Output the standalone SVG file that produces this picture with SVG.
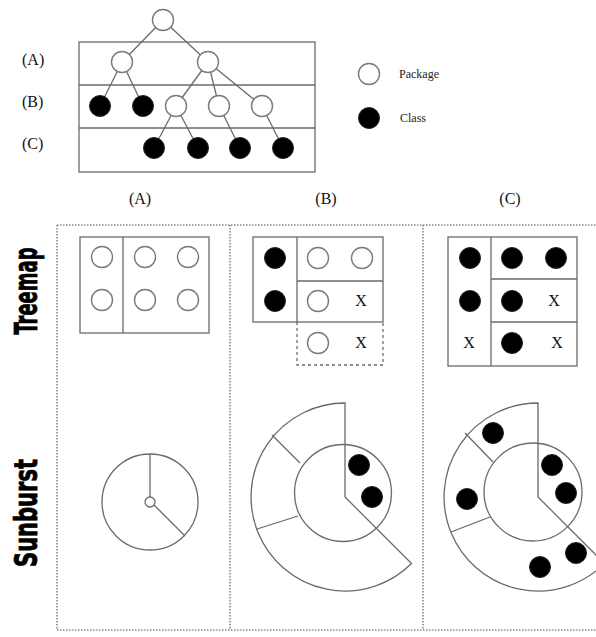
<svg xmlns="http://www.w3.org/2000/svg" width="596" height="637" viewBox="0 0 596 637">
<style>
.ln{stroke:#6a6a6a;stroke-width:1.3;fill:none}
.op{stroke:#7a7a7a;stroke-width:1.4;fill:#fff}
.fl{fill:#000;stroke:#222;stroke-width:1}
.dot{stroke:#8a8a8a;stroke-width:1.6;stroke-dasharray:1.5 1.5;fill:none}
.dash{stroke:#6a6a6a;stroke-width:1.3;stroke-dasharray:3 3;fill:none}
.lbl{font-family:"Liberation Serif","Times New Roman",serif;font-size:16px;fill:#111}
.leg{font-family:"Liberation Serif","Times New Roman",serif;font-size:12px;fill:#222}
.x{font-family:"Liberation Serif","Times New Roman",serif;font-size:16px;fill:#111;text-anchor:middle}
.side{font-family:"Liberation Sans Narrow","DejaVu Sans Condensed","Liberation Sans",sans-serif;font-weight:bold;font-size:32px;fill:#000;text-anchor:middle;stroke:#000;stroke-width:0.8}
</style>

<g id="tree">
  <rect class="ln" x="79" y="42" width="236" height="130"/>
  <line class="ln" x1="79" y1="85" x2="315" y2="85"/>
  <line class="ln" x1="79" y1="128" x2="315" y2="128"/>
  <text class="lbl" x="22" y="65">(A)</text>
  <text class="lbl" x="22" y="107">(B)</text>
  <text class="lbl" x="22" y="149">(C)</text>
  <g id="tree-edges">
    <line class="ln" x1="163" y1="20" x2="122" y2="62"/>
    <line class="ln" x1="163" y1="20" x2="208" y2="62"/>
    <line class="ln" x1="122" y1="62" x2="100" y2="106"/>
    <line class="ln" x1="122" y1="62" x2="143" y2="106"/>
    <line class="ln" x1="208" y1="62" x2="176" y2="106"/>
    <line class="ln" x1="208" y1="62" x2="219" y2="106"/>
    <line class="ln" x1="208" y1="62" x2="262" y2="106"/>
    <line class="ln" x1="176" y1="106" x2="154" y2="148"/>
    <line class="ln" x1="176" y1="106" x2="198" y2="148"/>
    <line class="ln" x1="219" y1="106" x2="240" y2="148"/>
    <line class="ln" x1="262" y1="106" x2="283" y2="148"/>
  </g>
  <g id="tree-nodes">
    <circle class="op" cx="163" cy="20" r="10.5"/>
    <circle class="op" cx="122" cy="62" r="10.5"/>
    <circle class="op" cx="208" cy="62" r="10.5"/>
    <circle class="fl" cx="100" cy="106" r="10.5"/>
    <circle class="fl" cx="143" cy="106" r="10.5"/>
    <circle class="op" cx="176" cy="106" r="10.5"/>
    <circle class="op" cx="219" cy="106" r="10.5"/>
    <circle class="op" cx="262" cy="106" r="10.5"/>
    <circle class="fl" cx="154" cy="148" r="10.5"/>
    <circle class="fl" cx="198" cy="148" r="10.5"/>
    <circle class="fl" cx="240" cy="148" r="10.5"/>
    <circle class="fl" cx="283" cy="148" r="10.5"/>
  </g>
</g>

<g id="legend">
  <circle class="op" cx="369" cy="74" r="10.5"/>
  <text class="leg" x="399" y="78">Package</text>
  <circle class="fl" cx="369" cy="118" r="10.5"/>
  <text class="leg" x="400" y="122">Class</text>
</g>

<g id="column-labels">
  <text class="lbl" x="140" y="204" text-anchor="middle">(A)</text>
  <text class="lbl" x="326" y="204" text-anchor="middle">(B)</text>
  <text class="lbl" x="510" y="204" text-anchor="middle">(C)</text>
</g>

<g id="frame">
  <line class="dot" x1="57" y1="225" x2="596" y2="225"/>
  <line class="dot" x1="57" y1="630" x2="596" y2="630"/>
  <line class="dot" x1="57" y1="225" x2="57" y2="630"/>
  <line class="dot" x1="230" y1="225" x2="230" y2="630"/>
  <line class="dot" x1="423" y1="225" x2="423" y2="630"/>
</g>

<g id="row-labels">
  <text class="side" transform="translate(37,291) rotate(-90)" textLength="87" lengthAdjust="spacingAndGlyphs">Treemap</text>
  <text class="side" transform="translate(37,513) rotate(-90)" textLength="108" lengthAdjust="spacingAndGlyphs">Sunburst</text>
</g>

<g id="treemap-a">
  <rect class="ln" x="80" y="237" width="129" height="96"/>
  <line class="ln" x1="123" y1="237" x2="123" y2="333"/>
  <circle class="op" cx="102" cy="257" r="10.5"/>
  <circle class="op" cx="145" cy="257" r="10.5"/>
  <circle class="op" cx="188" cy="257" r="10.5"/>
  <circle class="op" cx="102" cy="300" r="10.5"/>
  <circle class="op" cx="145" cy="300" r="10.5"/>
  <circle class="op" cx="188" cy="300" r="10.5"/>
</g>

<g id="treemap-b">
  <rect class="ln" x="253" y="237" width="130" height="85"/>
  <line class="ln" x1="297" y1="237" x2="297" y2="322"/>
  <line class="ln" x1="297" y1="281" x2="383" y2="281"/>
  <path class="dash" d="M297 322 V365 H383 V322"/>
  <circle class="fl" cx="275" cy="258" r="10.5"/>
  <circle class="fl" cx="275" cy="301" r="10.5"/>
  <circle class="op" cx="318" cy="258" r="10.5"/>
  <circle class="op" cx="362" cy="258" r="10.5"/>
  <circle class="op" cx="318" cy="301" r="10.5"/>
  <text class="x" x="361" y="306">X</text>
  <circle class="op" cx="318" cy="343" r="10.5"/>
  <text class="x" x="361" y="348">X</text>
</g>

<g id="treemap-c">
  <rect class="ln" x="448" y="237" width="129" height="129"/>
  <line class="ln" x1="491" y1="237" x2="491" y2="366"/>
  <line class="ln" x1="491" y1="279" x2="577" y2="279"/>
  <line class="ln" x1="491" y1="322" x2="577" y2="322"/>
  <circle class="fl" cx="470" cy="258" r="10.5"/>
  <circle class="fl" cx="512" cy="258" r="10.5"/>
  <circle class="fl" cx="556" cy="258" r="10.5"/>
  <circle class="fl" cx="470" cy="301" r="10.5"/>
  <circle class="fl" cx="512" cy="301" r="10.5"/>
  <text class="x" x="554" y="306">X</text>
  <text class="x" x="469" y="348">X</text>
  <circle class="fl" cx="512" cy="343" r="10.5"/>
  <text class="x" x="557" y="348">X</text>
</g>

<g id="sunburst-a">
  <circle class="ln" cx="150" cy="502" r="48"/>
  <line class="ln" x1="150" y1="454" x2="150" y2="497"/>
  <line class="ln" x1="154" y1="505" x2="185" y2="536"/>
  <circle class="ln" cx="150" cy="502" r="5"/>
</g>

<g id="sunburst-b">
  <path class="ln" d="M345 403 A94 94 0 1 0 411.5 563.5 L345 497 Z"/>
  <circle class="ln" cx="343" cy="493" r="48.5"/>
  <line class="ln" x1="300" y1="463" x2="272" y2="435"/>
  <line class="ln" x1="298" y1="516" x2="257" y2="529"/>
  <circle class="fl" cx="359" cy="465" r="10.5"/>
  <circle class="fl" cx="372" cy="497" r="10.5"/>
</g>

<g id="sunburst-c">
  <path class="ln" d="M538 403 A94 94 0 1 0 604.5 563.5 L538 497 Z"/>
  <circle class="ln" cx="533" cy="492" r="49"/>
  <line class="ln" x1="493" y1="462" x2="465" y2="433"/>
  <line class="ln" x1="490" y1="517" x2="451" y2="532"/>
  <circle class="fl" cx="493" cy="433" r="10.5"/>
  <circle class="fl" cx="467" cy="499" r="10.5"/>
  <circle class="fl" cx="552" cy="465" r="10.5"/>
  <circle class="fl" cx="566" cy="493" r="10.5"/>
  <circle class="fl" cx="540" cy="567" r="10.5"/>
  <circle class="fl" cx="576" cy="553" r="10.5"/>
</g>
</svg>
